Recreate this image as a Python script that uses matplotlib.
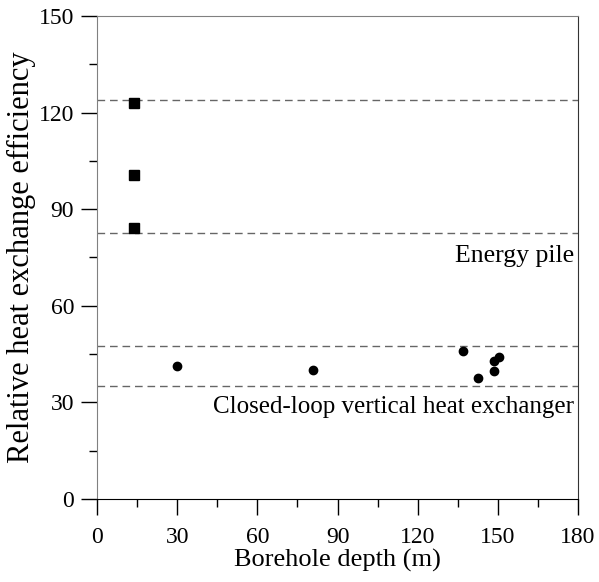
import matplotlib
matplotlib.use('Agg')
import matplotlib.pyplot as plt
from matplotlib.ticker import MultipleLocator

matplotlib.rcParams.update({'font.family': 'Liberation Serif', 'font.size': 17})

# energy pile points
pile_depth = [14, 14, 14]
pile_eff = [123, 100.5, 84]

# closed-loop vertical heat exchanger points
bhe_depth = [30, 81, 137, 142.5, 148.5, 148.5, 150.5]
bhe_eff = [41.3, 40.2, 46.0, 37.5, 39.9, 42.9, 44.2]

# range lines
pile_range = [124, 82.5]
bhe_range = [47.5, 35]

fig = plt.figure(figsize=(5.99, 5.82), dpi=100)
ax = fig.add_axes([0.162, 0.1426, 0.803, 0.830])

for y in pile_range + bhe_range:
    ax.axhline(y, color='#666666', linestyle=(0, (5.5, 3.5)), linewidth=1.0, zorder=1)

ax.plot(pile_depth, pile_eff, 's', color='black', markersize=6.5, zorder=3)
ax.plot(bhe_depth, bhe_eff, 'o', color='black', markersize=6, zorder=3)

ax.text(178.5, 75.5, 'Energy pile', ha='right', va='center', fontsize=18.5)
ax.text(178.5, 28.6, 'Closed-loop vertical heat exchanger', ha='right', va='center', fontsize=18)

ax.set_xlim(0, 180)
ax.set_ylim(0, 150)
ax.xaxis.set_major_locator(MultipleLocator(30))
ax.xaxis.set_minor_locator(MultipleLocator(15))
ax.yaxis.set_major_locator(MultipleLocator(30))
ax.yaxis.set_minor_locator(MultipleLocator(15))
ax.tick_params(which='major', direction='out', length=11.5, width=1, labelsize=17)
ax.tick_params(axis='x', which='major', pad=9)
ax.tick_params(axis='y', which='major', pad=5)
ax.tick_params(which='minor', direction='out', length=5.5, width=1)
ax.tick_params(top=False, right=False, which='both')

ax.spines['left'].set_color('#808080')
ax.spines['top'].set_color('#808080')
ax.spines['bottom'].set_color('black')
ax.spines['right'].set_color('#333333')

ax.set_xlabel('Borehole depth (m)', fontsize=19, labelpad=0)
ax.set_ylabel('Relative heat exchange efficiency', fontsize=22, labelpad=2)

plt.savefig('out.png', dpi=100)
